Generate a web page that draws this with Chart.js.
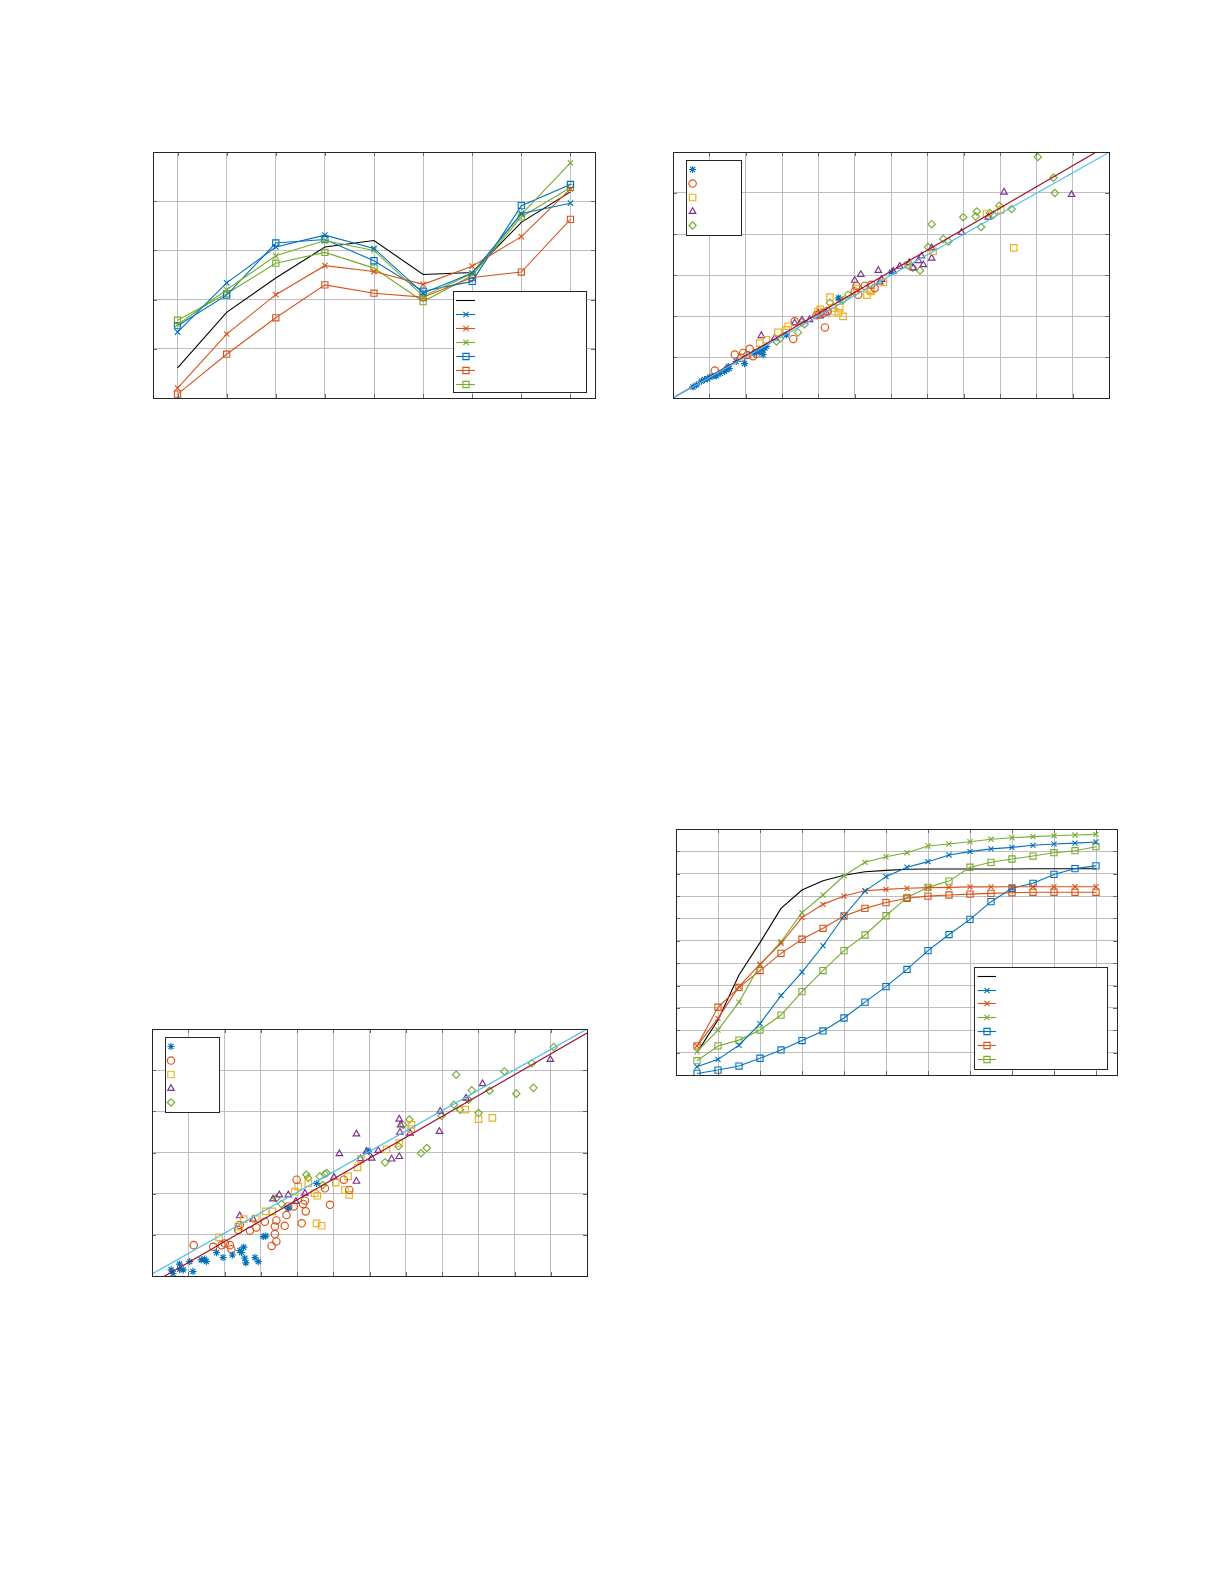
<!DOCTYPE html>
<html><head><meta charset="utf-8">
<script src="https://cdn.jsdelivr.net/npm/chart.js@4.4.0/dist/chart.umd.min.js"></script>
<style>
html,body{margin:0;padding:0;background:#fff;}
body{width:1225px;height:1585px;position:relative;overflow:hidden;}
.box{position:absolute;}
.box canvas{display:block;}
</style></head><body>
<div class="box" id="b1"><canvas id="c1"></canvas></div>
<div class="box" id="b2"><canvas id="c2"></canvas></div>
<div class="box" id="b3"><canvas id="c3"></canvas></div>
<div class="box" id="b4"><canvas id="c4"></canvas></div>
<script>
// ---------- Chart 1 (top-left) ----------
const c1Categories = [1,2,3,4,5,6,7,8,9];
const c1XTicks = [1,2,3,4,5,6,7,8,9];
const c1YTicks = [0,1,2,3,4,5];
const c1Ref      = [0.61,1.74,2.44,3.07,3.20,2.51,2.55,3.57,4.19];
const c1BlueX    = [1.34,2.34,3.07,3.31,3.04,2.13,2.54,3.75,3.96];
const c1OrangeX  = [0.20,1.30,2.10,2.69,2.57,2.31,2.68,3.28,4.25];
const c1GreenX   = [1.49,2.20,2.89,3.20,3.00,2.07,2.53,3.73,4.78];
const c1BlueSq   = [1.47,2.09,3.15,3.22,2.79,2.17,2.37,3.91,4.34];
const c1OrangeSq = [0.08,0.89,1.63,2.30,2.13,2.05,2.45,2.56,3.63];
const c1GreenSq  = [1.58,2.12,2.74,2.96,2.64,1.96,2.49,3.68,4.28];

// ---------- Chart 2 (top-right) scatter ----------
const c2XTicks = [0,1,2,3,4,5,6,7,8,9,10,11,12];
const c2YTicks = [0,1,2,3,4,5,6];
const c2Stars = [[0.55,0.27],[0.65,0.32],[0.78,0.41],[0.87,0.45],[0.95,0.47],[1.01,0.51],[1.10,0.53],[1.19,0.54],[1.30,0.60],[1.42,0.65],[1.47,0.69],[1.52,0.77],[1.55,0.72],[1.74,0.89],[1.97,0.84],[2.25,1.10],[2.30,1.12],[2.39,1.14],[2.45,1.18],[2.48,1.06],[2.53,1.22],[2.57,1.26],[3.12,1.54],[4.55,2.44],[6.01,3.07]];
const c2Circles = [[1.15,0.67],[1.70,1.06],[1.93,1.10],[2.05,1.05],[2.11,1.20],[2.20,1.02],[2.30,1.08],[2.42,1.16],[3.31,1.44],[4.18,1.72],[5.10,2.52],[5.28,2.74],[5.46,2.76],[1.88,0.98],[3.35,1.87],[3.95,2.02],[4.13,2.07],[4.25,2.12],[5.00,2.60],[5.05,2.73],[5.55,2.68]];
const c2Squares = [[2.39,1.34],[2.57,1.42],[2.89,1.60],[3.12,1.66],[3.17,1.75],[3.99,2.11],[4.05,2.16],[4.32,2.46],[4.38,2.20],[4.45,2.11],[4.55,2.08],[4.68,1.99],[5.05,2.67],[5.34,2.51],[5.42,2.63],[5.45,2.60],[5.79,2.82],[6.47,3.25],[7.16,3.58],[8.63,4.50],[9.02,4.59],[9.38,3.66],[4.59,2.20]];
const c2Triangles = [[2.43,1.52],[2.80,1.46],[3.35,1.83],[3.55,1.90],[3.76,1.91],[3.99,2.07],[4.05,2.00],[4.22,2.07],[5.00,2.87],[5.17,3.01],[5.65,3.11],[5.69,2.83],[5.74,2.89],[6.06,3.09],[6.24,3.21],[6.50,3.30],[6.61,3.17],[6.75,3.35],[6.84,3.46],[6.89,3.25],[7.12,3.66],[7.12,3.41],[7.94,4.04],[8.68,4.41],[9.11,5.02],[10.97,4.96]];
const c2Diamonds = [[2.85,1.38],[2.95,1.45],[3.44,1.60],[3.54,1.85],[3.62,1.80],[4.32,2.32],[4.59,2.40],[4.68,2.39],[4.82,2.52],[6.47,3.23],[6.60,3.18],[6.80,3.11],[7.02,3.68],[7.12,4.24],[7.44,3.88],[7.58,3.82],[7.99,4.41],[8.36,4.55],[8.33,4.43],[8.48,4.17],[8.72,4.51],[8.82,4.47],[8.98,4.69],[9.32,4.61],[10.04,5.88],[10.47,5.37],[10.51,5.00]];
const c2FitRed  = [[0,0],[12,6.18]];
const c2FitBlue = [[0,0],[12,5.99]];

// ---------- Chart 3 (bottom-left) scatter ----------
const c3XTicks = [0,1,2,3,4,5,6,7,8,9,10,11,12];
const c3YTicks = [0,1,2,3,4,5,6];
const c3Stars = [[0.53,0.15],[0.76,0.29],[0.86,0.15],[1.04,0.35],[1.13,0.11],[1.36,0.39],[1.45,0.41],[1.50,0.35],[1.78,0.57],[1.96,0.45],[2.22,0.51],[2.42,0.62],[2.47,0.57],[2.53,0.70],[2.56,0.43],[2.59,0.32],[2.84,0.45],[2.93,0.35],[3.07,0.96],[3.14,0.97],[3.76,1.65],[4.54,2.25],[5.97,3.03],[0.58,0.06],[0.76,0.16]];
const c3Circles = [[1.15,0.75],[1.69,0.71],[1.92,0.75],[2.01,0.79],[2.15,0.75],[2.19,0.65],[2.38,1.12],[2.42,1.24],[2.70,1.10],[2.88,1.18],[3.11,1.32],[3.30,0.73],[3.39,1.20],[3.39,1.02],[3.43,0.84],[3.43,1.35],[3.66,1.22],[3.71,1.48],[3.76,1.69],[3.91,1.69],[3.99,2.34],[4.13,1.28],[4.17,1.75],[4.22,1.83],[4.24,1.57],[4.91,1.73],[4.77,2.13],[5.29,2.34],[5.44,2.09]];
const c3Squares = [[1.85,0.94],[2.38,1.20],[2.53,1.38],[2.86,1.38],[3.14,1.57],[3.32,1.57],[3.94,2.05],[4.03,2.17],[4.31,2.25],[4.49,2.01],[4.54,1.28],[4.68,1.22],[4.56,1.95],[5.07,2.27],[5.32,2.09],[5.41,2.42],[5.44,1.97],[5.67,2.64],[5.76,2.84],[6.47,3.08],[6.82,3.23],[7.16,3.67],[7.15,3.57],[8.64,4.04],[9.01,3.81],[9.39,3.84]];
const c3Triangles = [[2.42,1.46],[2.79,1.38],[3.34,1.87],[3.51,1.97],[3.76,1.97],[3.97,1.81],[4.22,2.01],[5.02,2.40],[5.17,2.97],[5.64,3.45],[5.64,2.30],[5.75,2.85],[5.92,3.03],[6.06,2.86],[6.24,3.05],[6.61,2.84],[6.82,2.90],[6.82,3.81],[6.84,3.49],[6.86,3.67],[7.12,3.47],[7.93,3.51],[7.95,4.00],[8.66,4.32],[9.12,4.67],[10.99,5.26]];
const c3Diamonds = [[3.43,1.89],[3.57,1.75],[4.26,2.46],[4.31,2.38],[4.63,2.42],[4.71,2.21],[4.77,2.48],[4.82,2.50],[6.43,2.76],[6.80,3.15],[6.93,3.67],[7.10,3.80],[7.42,2.98],[7.58,3.11],[7.99,3.89],[8.33,4.16],[8.39,4.89],[8.50,4.04],[8.73,4.28],[8.82,4.51],[9.01,3.96],[9.31,4.50],[9.72,4.97],[10.05,4.43],[10.48,5.17],[10.52,4.57],[11.08,5.56]];
const c3FitBlue = [[0,0.05],[12,6.00]];
const c3FitRed  = [[0,-0.18],[12,5.90]];

// ---------- Chart 4 (bottom-right) ----------
const c4X = [1,2,3,4,5,6,7,8,9,10,11,12,13,14,15,16,17,18,19,20];
const c4XTicks = [0,2,4,6,8,10,12,14,16,18,20];
const c4YTicks = [0,0.1,0.2,0.3,0.4,0.5,0.6,0.7,0.8,0.9,1.0,1.1];
const c4Ref      = [0.100,0.246,0.447,0.592,0.745,0.827,0.869,0.893,0.909,0.915,0.920,0.921,0.921,0.921,0.921,0.921,0.922,0.922,0.922,0.922];
const c4BlueX    = [0.037,0.070,0.133,0.230,0.355,0.460,0.578,0.711,0.822,0.887,0.929,0.954,0.984,0.999,1.011,1.018,1.027,1.033,1.037,1.042];
const c4OrangeX  = [0.130,0.253,0.395,0.496,0.589,0.704,0.763,0.800,0.824,0.830,0.835,0.838,0.839,0.841,0.841,0.842,0.842,0.842,0.842,0.842];
const c4GreenX   = [0.104,0.201,0.326,0.492,0.596,0.726,0.805,0.891,0.951,0.976,0.994,1.024,1.033,1.043,1.054,1.061,1.066,1.070,1.073,1.076];
const c4BlueSq   = [0.007,0.022,0.040,0.075,0.112,0.154,0.197,0.255,0.326,0.395,0.472,0.556,0.628,0.696,0.775,0.835,0.857,0.897,0.923,0.935];
const c4OrangeSq = [0.130,0.303,0.392,0.467,0.544,0.607,0.656,0.711,0.745,0.771,0.790,0.800,0.805,0.809,0.812,0.815,0.817,0.817,0.817,0.817];
const c4GreenSq  = [0.064,0.130,0.156,0.201,0.268,0.373,0.467,0.556,0.626,0.712,0.794,0.839,0.867,0.929,0.951,0.966,0.979,0.994,1.003,1.021];

// ---------- styling ----------
const BLUE='#0072BD', ORANGE='#D95319', YELLOW='#EDB120', PURPLE='#7E2F8E', GREEN='#77AC30', LBLUE='#4DBEEE', DRED='#A2142F';
const GRID='#bebebe', AXIS='#262626', PAD=8;

const frame = {
  id:'frame',
  afterDatasetsDraw(chart){
    const a = chart.chartArea, ctx = chart.ctx, xs = chart.scales.x, ys = chart.scales.y, L = 4;
    ctx.save();
    ctx.strokeStyle = '#6a6a6a'; ctx.lineWidth = 1;
    ctx.beginPath();
    xs.ticks.forEach(t => { const p = Math.round(xs.getPixelForValue(t.value)) + 0.5;
      ctx.moveTo(p, a.bottom); ctx.lineTo(p, a.bottom - L); ctx.moveTo(p, a.top); ctx.lineTo(p, a.top + L); });
    ys.ticks.forEach(t => { const p = Math.round(ys.getPixelForValue(t.value)) + 0.5;
      ctx.moveTo(a.left, p); ctx.lineTo(a.left + L, p); ctx.moveTo(a.right, p); ctx.lineTo(a.right - L, p); });
    ctx.stroke();
    ctx.strokeStyle = AXIS;
    ctx.strokeRect(Math.round(a.left)+0.5, Math.round(a.top)+0.5, Math.round(a.right-a.left), Math.round(a.bottom-a.top));
    ctx.restore();
  }
};

const boxLegend = {
  id:'boxLegend',
  afterDraw(chart, args, o){
    if (!o || !o.w) return;
    const a = chart.chartArea, ctx = chart.ctx;
    const left = Math.round(o.anchor === 'tl' ? a.left + o.dx : a.right - o.dx - o.w);
    const top = Math.round(o.anchor === 'tl' ? a.top + o.dy : a.bottom - o.dy - o.h);
    ctx.save();
    ctx.fillStyle = '#fff'; ctx.fillRect(left, top, o.w, o.h);
    ctx.strokeStyle = AXIS; ctx.lineWidth = 1; ctx.strokeRect(left + 0.5, top + 0.5, o.w, o.h);
    const items = chart.data.datasets.filter(d => d.inLegend);
    items.forEach((d, i) => {
      const y = Math.round(top + o.firstRow + i * o.rowGap) + 0.5;
      if (d.legendLine) {
        ctx.strokeStyle = d.borderColor; ctx.lineWidth = d.borderWidth;
        ctx.beginPath(); ctx.moveTo(left + o.lineFrom, y); ctx.lineTo(left + o.lineTo, y); ctx.stroke();
      }
      if (d.pointRadius > 0) {
        ctx.strokeStyle = d.pointBorderColor || d.borderColor; ctx.fillStyle = 'rgba(0,0,0,0)';
        ctx.lineWidth = d.pointBorderWidth || 1;
        Chart.helpers.drawPoint(ctx, {pointStyle: d.pointStyle, radius: d.pointRadius, rotation: 0, borderWidth: d.pointBorderWidth || 1}, left + o.markerX, y);
      }
    });
    ctx.restore();
  }
};

function place(boxId, area){
  const b = document.getElementById(boxId);
  b.style.left = (area.left - PAD) + 'px';
  b.style.top = (area.top - PAD) + 'px';
  b.style.width = (area.right - area.left + 2*PAD) + 'px';
  b.style.height = (area.bottom - area.top + 2*PAD) + 'px';
}

function axis(min, max, ticks){
  return {
    type:'linear', min, max,
    afterBuildTicks: s => { s.ticks = ticks.map(v => ({value: v})); },
    ticks:{display:false},
    grid:{color:GRID, lineWidth:1, drawTicks:false},
    border:{display:false}
  };
}

function baseOptions(xa, ya, legend){
  return {
    responsive:true, maintainAspectRatio:false, animation:false, devicePixelRatio:1,
    layout:{padding:PAD},
    events:[],
    plugins:{legend:{display:false}, tooltip:{enabled:false}, boxLegend:legend},
    scales:{x:xa, y:ya}
  };
}

function lineSeries(xs, ys, color, style, radius, order){
  return {
    data: xs.map((x, i) => ({x, y: ys[i]})),
    borderColor: color, borderWidth: 1.1, tension: 0,
    pointStyle: style || 'circle', pointRadius: style ? radius : 0,
    pointBorderColor: color, pointBackgroundColor: 'rgba(0,0,0,0)', pointBorderWidth: 1.1,
    showLine: true, fill: false, inLegend: true, legendLine: true, order: order || 0
  };
}

function scatterSeries(pts, color, style, radius){
  return {
    type:'scatter',
    data: pts.map(p => ({x: p[0], y: p[1]})),
    borderColor: color, pointStyle: style, pointRadius: radius,
    pointBorderColor: color, pointBackgroundColor: 'rgba(0,0,0,0)', pointBorderWidth: 1.15,
    showLine: false, inLegend: true, order: 2
  };
}

function fitSeries(pts, color){
  return {
    type:'line',
    data: pts.map(p => ({x: p[0], y: p[1]})),
    borderColor: color, borderWidth: 1.2, pointRadius: 0, tension: 0,
    showLine: true, fill: false, inLegend: false, order: 0
  };
}

// ---- Chart 1 ----
place('b1', {left:153, top:152, right:595, bottom:398});
new Chart(document.getElementById('c1'), {
  type:'line',
  data:{datasets:[
    lineSeries(c1Categories, c1Ref, '#000000', null, 0, 1),
    lineSeries(c1Categories, c1BlueX, BLUE, 'crossRot', 3.8),
    lineSeries(c1Categories, c1OrangeX, ORANGE, 'crossRot', 3.8),
    lineSeries(c1Categories, c1GreenX, GREEN, 'crossRot', 3.8),
    lineSeries(c1Categories, c1BlueSq, BLUE, 'rect', 4.4),
    lineSeries(c1Categories, c1OrangeSq, ORANGE, 'rect', 4.4),
    lineSeries(c1Categories, c1GreenSq, GREEN, 'rect', 4.4)
  ]},
  options: baseOptions(axis(0.5, 9.5, c1XTicks), axis(0, 5, c1YTicks),
    {anchor:'br', dx:9, dy:6, w:133, h:101, firstRow:8.6, rowGap:14, lineFrom:3, lineTo:22, markerX:13}),
  plugins:[frame, boxLegend]
});

// ---- Chart 2 ----
place('b2', {left:673, top:152, right:1109, bottom:398});
new Chart(document.getElementById('c2'), {
  type:'scatter',
  data:{datasets:[
    scatterSeries(c2Stars, BLUE, 'star', 3.6),
    scatterSeries(c2Circles, ORANGE, 'circle', 3.7),
    scatterSeries(c2Squares, YELLOW, 'rect', 4.6),
    scatterSeries(c2Triangles, PURPLE, 'triangle', 3.8),
    scatterSeries(c2Diamonds, GREEN, 'rectRot', 3.7),
    fitSeries(c2FitBlue, LBLUE),
    fitSeries(c2FitRed, DRED)
  ]},
  options: baseOptions(axis(0, 12, c2XTicks), axis(0, 6, c2YTicks),
    {anchor:'tl', dx:13, dy:8, w:55, h:75, firstRow:9, rowGap:14.1, markerX:6.6}),
  plugins:[frame, boxLegend]
});

// ---- Chart 3 ----
place('b3', {left:152, top:1029, right:587, bottom:1276});
new Chart(document.getElementById('c3'), {
  type:'scatter',
  data:{datasets:[
    scatterSeries(c3Stars, BLUE, 'star', 3.6),
    scatterSeries(c3Circles, ORANGE, 'circle', 3.7),
    scatterSeries(c3Squares, YELLOW, 'rect', 4.6),
    scatterSeries(c3Triangles, PURPLE, 'triangle', 3.8),
    scatterSeries(c3Diamonds, GREEN, 'rectRot', 3.7),
    fitSeries(c3FitBlue, LBLUE),
    fitSeries(c3FitRed, DRED)
  ]},
  options: baseOptions(axis(0, 12, c3XTicks), axis(0, 6, c3YTicks),
    {anchor:'tl', dx:13, dy:8, w:54, h:75, firstRow:9.4, rowGap:14, markerX:6}),
  plugins:[frame, boxLegend]
});

// ---- Chart 4 ----
place('b4', {left:676, top:829, right:1117, bottom:1075});
new Chart(document.getElementById('c4'), {
  type:'line',
  data:{datasets:[
    lineSeries(c4X, c4Ref, '#000000', null, 0, 1),
    lineSeries(c4X, c4BlueX, BLUE, 'crossRot', 3.6),
    lineSeries(c4X, c4OrangeX, ORANGE, 'crossRot', 3.6),
    lineSeries(c4X, c4GreenX, GREEN, 'crossRot', 3.6),
    lineSeries(c4X, c4BlueSq, BLUE, 'rect', 4.4),
    lineSeries(c4X, c4OrangeSq, ORANGE, 'rect', 4.4),
    lineSeries(c4X, c4GreenSq, GREEN, 'rect', 4.4)
  ]},
  options: baseOptions(axis(0, 21, c4XTicks), axis(0, 1.1, c4YTicks),
    {anchor:'br', dx:10, dy:6, w:133, h:102, firstRow:8.7, rowGap:13.85, lineFrom:3.6, lineTo:22, markerX:13}),
  plugins:[frame, boxLegend]
});
</script>
</body></html>
